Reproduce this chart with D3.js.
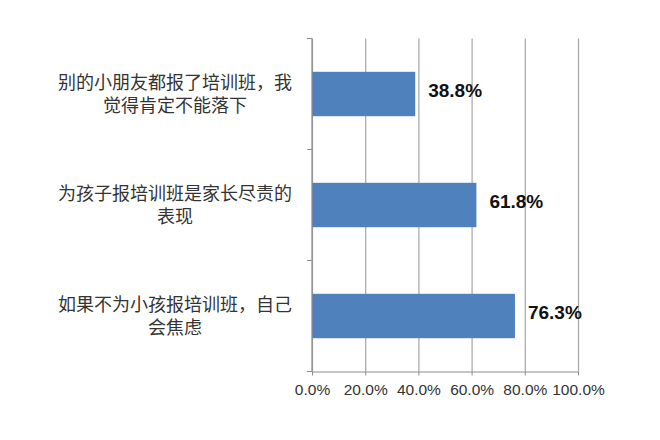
<!DOCTYPE html>
<html>
<head>
<meta charset="utf-8">
<script src="https://cdn.jsdelivr.net/npm/d3@7"></script>
<style>
  body { margin: 0; background: #fff; }
  svg { display: block; }
</style>
</head>
<body>
<svg id="svg" width="660" height="440"></svg>
<script>
// chart data
var categories = [
  "别的小朋友都报了培训班，我觉得肯定不能落下",
  "为孩子报培训班是家长尽责的表现",
  "如果不为小孩报培训班，自己会焦虑"
];
var values = [0.388, 0.618, 0.763];
var xTicks = [0, 0.2, 0.4, 0.6, 0.8, 1.0];

var svg = d3.select("#svg");
// plot area ("top" is a reserved window prop, so use plot* names)
var plotLeft = 312, plotRight = 578, plotTop = 38.5, plotBottom = 371.5;

var x = d3.scaleLinear().domain([0, 1]).range([plotLeft, plotRight]);
var y = d3.scaleBand().domain(categories).range([plotTop, plotBottom])
  .paddingInner(0.6).paddingOuter(0.3);

// grid lines
svg.append("g")
  .attr("transform", "translate(0," + plotBottom + ")")
  .call(d3.axisBottom(x).tickValues(xTicks).tickSize(-(plotBottom - plotTop)).tickFormat(""))
  .call(g => g.select(".domain").remove())
  .call(g => g.selectAll("line").attr("stroke", "#a6a6a6").attr("stroke-width", 1.2));

// bars
svg.append("g").selectAll("rect")
  .data(values)
  .enter().append("rect")
  .attr("x", x(0))
  .attr("y", (d, i) => y(categories[i]))
  .attr("width", d => x(d) - x(0))
  .attr("height", y.bandwidth())
  .attr("fill", "#4f81bd");

// x axis
svg.append("g")
  .attr("transform", "translate(0," + plotBottom + ")")
  .call(d3.axisBottom(x).tickValues(xTicks).tickSize(4).tickPadding(8)
    .tickFormat(d3.format(".1%")))
  .call(g => g.select(".domain").attr("stroke", "#8c8c8c").attr("d", "M" + plotLeft + ",0.5H" + plotRight))
  .call(g => g.selectAll("line").attr("stroke", "#8c8c8c"))
  .call(g => g.selectAll("text")
    .attr("font-family", "Liberation Sans, Arial, sans-serif")
    .attr("font-size", 15.5).attr("fill", "#333"));

// y axis line and category boundary ticks
var step = y.step();
var yAxis = svg.append("g");
yAxis.append("line")
  .attr("x1", plotLeft).attr("x2", plotLeft)
  .attr("y1", plotTop).attr("y2", plotBottom)
  .attr("stroke", "#8c8c8c").attr("stroke-width", 1.2);
var bounds = d3.range(categories.length + 1).map(i => plotTop + i * step);
yAxis.selectAll(".tick").data(bounds).enter().append("line")
  .attr("x1", plotLeft - 5).attr("x2", plotLeft)
  .attr("y1", d => d).attr("y2", d => d)
  .attr("stroke", "#8c8c8c");

// category labels, wrapped at 13 chars
var labels = svg.append("g");
categories.forEach(function(c, i) {
  var lines = [c.slice(0, 13), c.slice(13)];
  var cy = y(c) + y.bandwidth() / 2;
  var t = labels.append("text")
    .attr("x", 175)
    .attr("text-anchor", "middle")
    .attr("font-family", "Noto Sans CJK SC, sans-serif")
    .attr("font-size", 18)
    .attr("fill", "#333");
  lines.forEach(function(l, j) {
    t.append("tspan")
      .attr("x", 175)
      .attr("y", cy + (j - 0.5) * 23)
      .attr("dy", "0.35em")
      .text(l);
  });
});

// value labels
svg.append("g").selectAll("text")
  .data(values)
  .enter().append("text")
  .attr("x", d => x(d) + 13)
  .attr("y", (d, i) => y(categories[i]) + y.bandwidth() / 2 - 4)
  .attr("dy", "0.35em")
  .attr("font-family", "Liberation Sans, Arial, sans-serif")
  .attr("font-weight", "bold")
  .attr("font-size", 19)
  .attr("fill", "#111")
  .text(d => d3.format(".1%")(d));
</script>
</body>
</html>
